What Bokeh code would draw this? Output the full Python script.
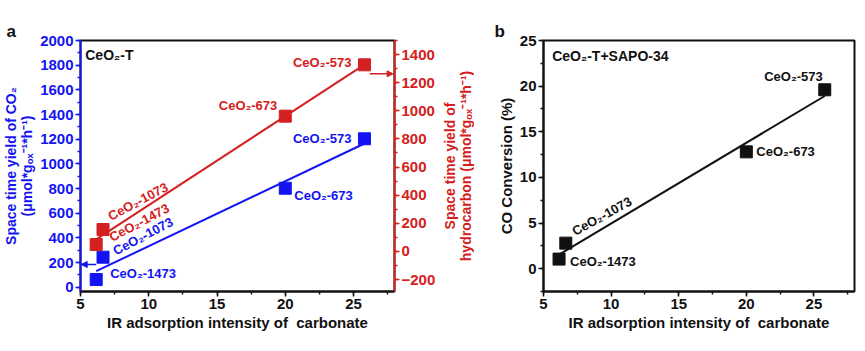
import numpy as np
from bokeh.plotting import figure
from bokeh.layouts import row
from bokeh.models import (Range1d, LinearAxis, SingleIntervalTicker, FixedTicker,
                          Arrow, NormalHead, Label, ColumnDataSource)
from bokeh.embed import file_html
from bokeh.resources import INLINE
from bokeh.core.properties import value

# ---------------- data ----------------
samples = ["CeO₂-1473", "CeO₂-1073", "CeO₂-673", "CeO₂-573"]
ir_intensity = [6.15, 6.65, 20.0, 25.8]
sty_co2 = [62, 243, 802, 1203]          # left axis, panel a (blue)
sty_hc = [49, 156, 962, 1327]           # right axis, panel a (red)
co_conversion = [1.05, 2.8, 12.8, 19.6]  # panel b (black)

arrow_co2_level = 184
arrow_hc_level = 1263

# ---------------- style ----------------
FONT = "Liberation Sans"
BLUE = "#1414F2"
RED = "#D42020"
BLACK = "#111111"

FRAME_W_A, FRAME_H = 314, 251
FRAME_W_B = 311
X_LABEL = "IR adsorption intensity of\u00a0 carbonate"


def style_axis(ax, color, ticker):
    ax.ticker = ticker
    ax.axis_line_color = color
    ax.axis_line_width = 2
    ax.major_tick_line_color = color
    ax.minor_tick_line_color = color
    ax.major_tick_line_width = 1.5
    ax.minor_tick_line_width = 1.5
    ax.major_tick_in = 0
    ax.major_tick_out = 5
    ax.minor_tick_in = 0
    ax.minor_tick_out = 3
    ax.major_label_text_color = color
    ax.major_label_text_font = FONT
    ax.major_label_text_font_style = "bold"
    ax.major_label_text_font_size = "15px"
    ax.major_label_standoff = 2
    ax.axis_label_text_color = color
    ax.axis_label_text_font = FONT
    ax.axis_label_text_font_style = "bold"
    ax.axis_label_text_font_size = "15px"
    ax.axis_label_standoff = 2
    ax.axis_label_text_line_height = 1.0


def add_labels(fig, xs, ys, texts, offsets, color, y_range_name="default"):
    # offsets: list of (dx px, dy px, align, angle in degrees)
    for xv, yv, t, (dx, dy, align, ang) in zip(xs, ys, texts, offsets):
        src = ColumnDataSource(dict(x=[xv], y=[yv], t=[t]))
        fig.text(x="x", y="y", text="t", source=src, x_offset=dx, y_offset=dy,
                 angle=np.deg2rad(ang), text_align=align, text_baseline="middle",
                 text_font=value(FONT), text_font_style="bold",
                 text_font_size="13px", text_color=color,
                 y_range_name=y_range_name)


def style_title(fig, letter, offset):
    fig.title.text = letter
    fig.title.align = "left"
    fig.title.offset = offset
    fig.title.standoff = 0
    fig.title.vertical_align = "bottom"
    fig.title.text_font = FONT
    fig.title.text_font_style = "bold"
    fig.title.text_font_size = "17px"
    fig.title.text_color = BLACK


# ================= panel a =================
pa = figure(frame_width=FRAME_W_A, frame_height=FRAME_H,
            min_border_left=79, min_border_right=43, min_border_top=40,
            min_border_bottom=60, x_range=Range1d(5, 28),
            y_range=Range1d(-35, 2000), output_backend="svg",
            toolbar_location=None)
pa.extra_y_ranges = {"hc": Range1d(-285, 1500)}
pa.xgrid.visible = False
pa.ygrid.visible = False
pa.outline_line_color = BLACK
pa.outline_line_width = 2
style_title(pa, "a", -74)

style_axis(pa.xaxis[0], BLACK, SingleIntervalTicker(interval=5, num_minor_ticks=2))
pa.xaxis[0].axis_label = X_LABEL
style_axis(pa.yaxis[0], BLUE, SingleIntervalTicker(interval=200, num_minor_ticks=2))
pa.yaxis[0].axis_label = "Space time yield of CO₂\n(μmol*gₒₓ⁻¹*h⁻¹)"
pa.yaxis[0].axis_label_text_font_size = "14px"

ra = LinearAxis(y_range_name="hc")
style_axis(ra, RED, SingleIntervalTicker(interval=200, num_minor_ticks=2))
pa.add_layout(ra, "right")

# fits
xs_fit = np.array([min(ir_intensity), max(ir_intensity)])
kb = np.polyfit(ir_intensity, sty_co2, 1)
kr = np.polyfit(ir_intensity, sty_hc, 1)
pa.line(xs_fit, np.polyval(kb, xs_fit), line_color=BLUE, line_width=2)
pa.line(xs_fit, np.polyval(kr, xs_fit), line_color=RED, line_width=2,
        y_range_name="hc")
pa.scatter(ir_intensity, sty_co2, marker="square", size=12,
           fill_color=BLUE, line_color=BLUE)
pa.scatter(ir_intensity, sty_hc, marker="square", size=12,
           fill_color=RED, line_color=RED, y_range_name="hc")

blue_offsets = [(14, -6, "left", 0), (40, -21, "center", 28),
                (9, 7, "left", 0), (-13, 0, "right", 0)]
red_offsets = [(43, -22, "center", 28), (35, -28, "center", 28),
               (-8, -11, "right", 0), (-13, -2, "right", 0)]
add_labels(pa, ir_intensity, sty_co2, samples, blue_offsets, BLUE)
add_labels(pa, ir_intensity, sty_hc, samples, red_offsets, RED, "hc")

pa.add_layout(Arrow(end=NormalHead(size=6, fill_color=BLUE, line_color=BLUE),
                    x_start=ir_intensity[0], y_start=arrow_co2_level,
                    x_end=5.05, y_end=arrow_co2_level,
                    line_color=BLUE, line_width=1.5))
pa.add_layout(Arrow(end=NormalHead(size=6, fill_color=RED, line_color=RED),
                    x_start=26.2, y_start=arrow_hc_level,
                    x_end=27.9, y_end=arrow_hc_level,
                    line_color=RED, line_width=1.5, y_range_name="hc"))

pa.add_layout(Label(x=5.2, y=1886, x_offset=2, text="CeO₂-T", text_font=FONT,
                    text_font_style="bold", text_font_size="14px",
                    text_color=BLACK, text_align="left",
                    text_baseline="middle"))

# ---- right-axis title of panel a (reads bottom-to-top) ----
pl = figure(frame_width=1, frame_height=FRAME_H, min_border_left=30,
            min_border_right=0, min_border_top=40, min_border_bottom=60,
            x_range=Range1d(0, 1), y_range=Range1d(-285, 1500),
            output_backend="svg", toolbar_location=None)
pl.outline_line_color = None
pl.xgrid.visible = False
pl.ygrid.visible = False
pl.xaxis.visible = False
lax = pl.yaxis[0]
lax.ticker = FixedTicker(ticks=[])
lax.axis_line_color = None
lax.major_tick_line_color = None
lax.minor_tick_line_color = None
lax.major_label_standoff = 0
lax.major_tick_out = 0
lax.minor_tick_out = 0
lax.axis_label = "Space time yield of\nhydrocarbon (μmol*gₒₓ⁻¹*h⁻¹)"
lax.axis_label_text_color = RED
lax.axis_label_text_font = FONT
lax.axis_label_text_font_style = "bold"
lax.axis_label_text_font_size = "14px"
lax.axis_label_text_line_height = 1.0
lax.axis_label_standoff = 0

# ================= panel b =================
pb = figure(frame_width=FRAME_W_B, frame_height=FRAME_H,
            min_border_left=69, min_border_right=12, min_border_top=40,
            min_border_bottom=60, x_range=Range1d(5, 28),
            y_range=Range1d(-2.5, 25), output_backend="svg",
            toolbar_location=None)
pb.xgrid.visible = False
pb.ygrid.visible = False
pb.outline_line_color = BLACK
pb.outline_line_width = 2
style_title(pb, "b", -49)
style_axis(pb.xaxis[0], BLACK, SingleIntervalTicker(interval=5, num_minor_ticks=2))
pb.xaxis[0].axis_label = X_LABEL
style_axis(pb.yaxis[0], BLACK, SingleIntervalTicker(interval=5, num_minor_ticks=2))
pb.yaxis[0].axis_label = "CO Conversion (%)"

kc = np.polyfit(ir_intensity, co_conversion, 1)
pb.line(xs_fit, np.polyval(kc, xs_fit), line_color=BLACK, line_width=2)
pb.scatter(ir_intensity, co_conversion, marker="square", size=12,
           fill_color=BLACK, line_color=BLACK)
black_offsets = [(11, 2, "left", 0), (36, -27, "center", 29),
                 (10, 0, "left", 0), (-2, -13, "right", 0)]
add_labels(pb, ir_intensity, co_conversion, samples, black_offsets, BLACK)

pb.add_layout(Label(x=5.2, y=23.3, x_offset=6, text="CeO₂-T+SAPO-34", text_font=FONT,
                    text_font_style="bold", text_font_size="14px",
                    text_color=BLACK, text_align="left",
                    text_baseline="middle"))

layout = row(pa, pl, pb, spacing=0)
open("out.html", "w").write(file_html(layout, INLINE))
